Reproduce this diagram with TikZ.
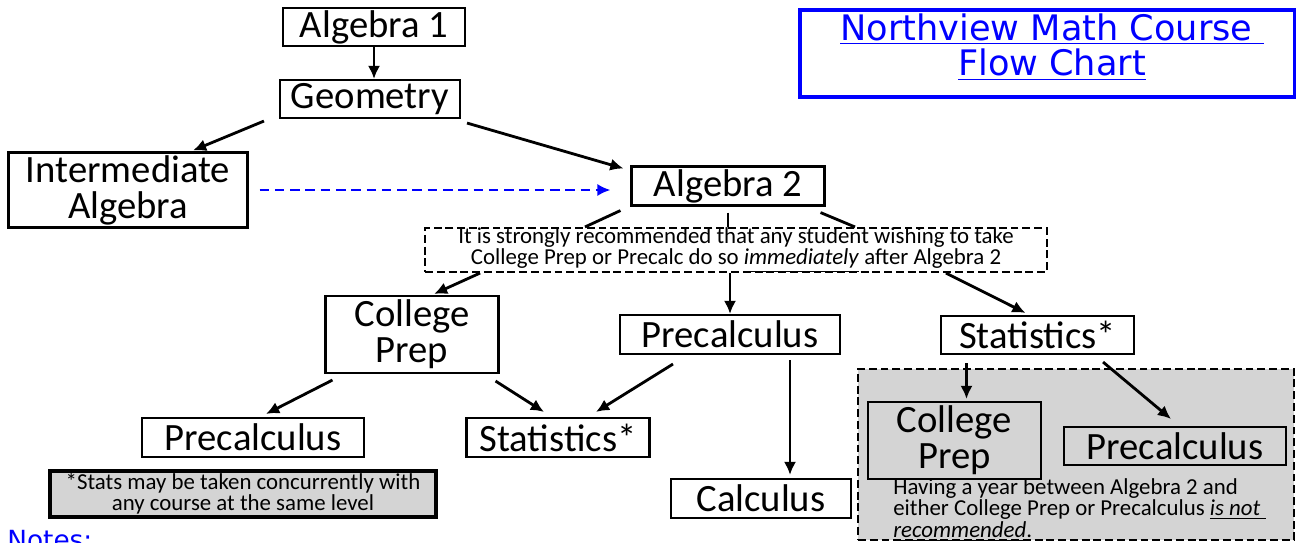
\documentclass[tikz,border=0pt]{standalone}
\usepackage{fontspec}
\setmainfont{Carlito}
\newfontfamily\titlefont{DejaVu Sans}
\usetikzlibrary{calc,arrows.meta}
\definecolor{notegray}{RGB}{212,212,212}
\definecolor{titleblue}{RGB}{0,0,255}

\begin{document}
\begin{tikzpicture}[x=0.02cm,y=-0.02cm,>={Latex[length=7.5pt,width=7pt]},
    course/.style={draw,line width=1.2pt,inner sep=0pt,align=center,font=\fontsize{22}{20.5}\selectfont},
    smalltext/.style={font=\fontsize{13}{12}\selectfont},
    dashedbox/.style={draw,line width=1.1pt,dash pattern=on 4.5pt off 2.2pt,inner sep=0pt},
    flow/.style={line width=1.6pt,->},
    stem/.style={line width=1.6pt}]
    \useasboundingbox (0,0) rectangle (1296,542);

    % title
    \node[draw=titleblue,line width=2pt,minimum width=9.9cm,minimum height=1.74cm] (title) at (1047.5,53.5) {};
    \node[align=center,text=titleblue,font=\titlefont\fontsize{20}{20}\selectfont] (titletext) at (1052,47)
        {\underline{Northview Math Course\ }\\\underline{Flow Chart}};

    % first courses
    \node[course,minimum width=3.64cm,minimum height=0.76cm] (alga) at (374,27) {Algebra 1};
    \node[course,minimum width=3.6cm,minimum height=0.76cm] (geo) at (370,99) {Geometry};
    \node[course,minimum width=4.78cm,minimum height=1.5cm] (inter) at (128,190) {Intermediate\\Algebra};
    \node[course,minimum width=3.86cm,minimum height=0.78cm] (algb) at (728,186) {Algebra 2};

    \node[dashedbox,smalltext,align=center,minimum width=12.44cm,minimum height=0.88cm] (recnote) at (736,250)
        {It is strongly recommended that any student wishing to take\\College Prep or Precalc do so \underline{\textit{immediately}} after Algebra 2};

    % after Algebra 2
    \node[course,minimum width=3.46cm,minimum height=1.54cm] (cprep) at (412,334.5) {College\\Prep};
    \node[course,minimum width=4.4cm,minimum height=0.78cm] (precb) at (730,334.5) {Precalculus};
    \node[course,minimum width=3.86cm,minimum height=0.76cm] (statb) at (1037.5,335) {Statistics*};

    \node[course,minimum width=4.44cm,minimum height=0.78cm] (precl) at (253,437.5) {Precalculus};
    \node[course,minimum width=3.66cm,minimum height=0.78cm] (statm) at (558,437.5) {Statistics*};
    \node[course,minimum width=3.6cm,minimum height=0.78cm] (calc) at (761,498.5) {Calculus};

    \node[draw,fill=notegray,line width=2pt,smalltext,align=center,inner sep=0pt,minimum width=7.72cm,minimum height=0.92cm] (statnote) at (243,494)
        {*Stats may be taken concurrently with\\any course at the same level};

    % gray region
    \node[dashedbox,fill=notegray,minimum width=8.72cm,minimum height=3.42cm] (grayreg) at (1076,454.5) {};
    \node[course,fill=notegray,minimum width=3.46cm,minimum height=1.54cm] (cprepg) at (954.5,440.5) {College\\Prep};
    \node[course,fill=notegray,minimum width=4.44cm,minimum height=0.76cm] (precg) at (1175,446) {Precalculus};
    \node[smalltext,font=\fontsize{13}{10.8}\selectfont,align=left,anchor=north west,inner sep=0pt] (waitnote) at (893,478)
        {Having a year between Algebra 2 and\\either College Prep or Precalculus \underline{\textit{is not\ }}\\\underline{\textit{recommended}}.};

    \node[anchor=base west,inner sep=0pt,text=titleblue,font=\titlefont\fontsize{15}{18}\selectfont] (notes) at (7,549) {Notes:};

    % connectors
    \draw[flow] (alga.south) -- (alga.south |- geo.north);
    \draw[flow] ($(geo.south west)+(-15,2)$) -- ($(inter.north)+(65,-1)$);
    \draw[flow] ($(geo.south east)+(6,4)$) -- ($(algb.north west)+(-7,3)$);
    \draw[->,titleblue,line width=1.4pt,dash pattern=on 5.5pt off 3.2pt,shorten <=0.22cm,shorten >=0.4cm] (inter.east) -- (inter.east -| algb.west);

    \draw[stem] ($(algb.south west)+(-10,4)$) -- ($(recnote.north)+(-151,0)$);
    \draw[stem,shorten <=0.12cm] (algb.south) -- (algb.south |- recnote.north);
    \draw[stem] ($(algb.south east)+(-5,6)$) -- ($(recnote.north)+(119,0)$);

    \draw[flow] ($(recnote.south west)+(56,0)$) -- ($(cprep.north)+(22,-1)$);
    \draw[flow] (recnote.south -| precb.north) -- (precb.north);
    \draw[flow] ($(recnote.south east)+(-102,0)$) -- ($(statb.north)+(-12,-2)$);

    \draw[flow] ($(cprep.south west)+(8,6)$) -- ($(precl.north)+(13,-3)$);
    \draw[flow] ($(cprep.south east)+(-4,7)$) -- ($(statm.north)+(-14,-5)$);
    \draw[flow] ($(precb.south)+(-57,9)$) -- ($(statm.north)+(38,-5)$);
    \draw[flow] ($(precb.south)+(60,5)$) -- ($(calc.north)+(29,-3)$);

    \draw[flow] ($(statb.south)+(-71,8)$) -- ($(cprepg.north)+(12,-2)$);
    \draw[flow] ($(statb.south east)+(-32,7)$) -- ($(precg.north)+(-4,-7)$);

\end{tikzpicture}
\end{document}
